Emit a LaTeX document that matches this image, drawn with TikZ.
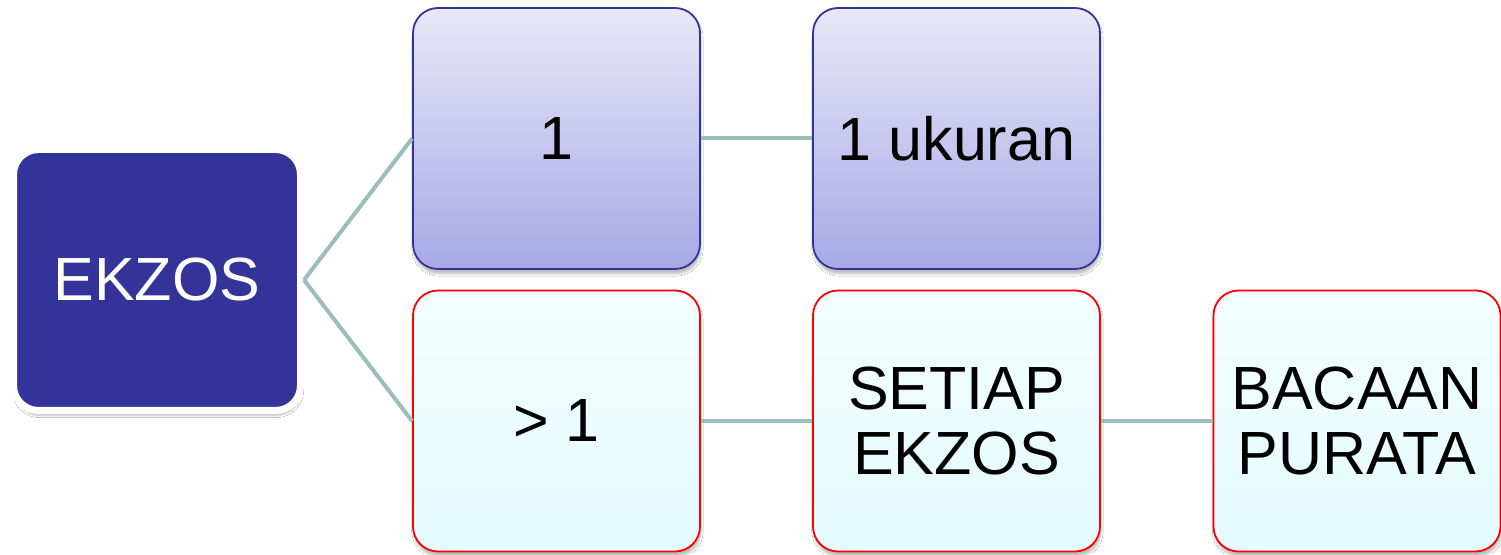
\documentclass[tikz,border=0pt]{standalone}
\usepackage{fontspec}
\setmainfont{Liberation Sans}
\usetikzlibrary{shadows.blur}
\definecolor{rootfill}{HTML}{333399}
\definecolor{blueedge}{HTML}{333399}
\definecolor{bluetop}{HTML}{E8E8F8}
\definecolor{bluebot}{HTML}{A8A8E6}
\definecolor{redtop}{HTML}{F2FDFF}
\definecolor{redbot}{HTML}{E4FBFF}
\definecolor{linkcol}{HTML}{9CBDBD}
\begin{document}
\begin{tikzpicture}[x=1pt,y=1pt,
  box/.style={rounded corners=25pt, minimum width=287pt, minimum height=261pt,
    inner sep=0pt, align=center, font=\fontsize{61}{65}\selectfont,
    blur shadow={shadow xshift=1pt, shadow yshift=-5pt, shadow opacity=25, shadow blur steps=6}},
  rootbox/.style={box, fill=rootfill, draw=white, line width=7pt, text=white},
  bluebox/.style={box, draw=blueedge, line width=1.8pt, top color=bluetop, bottom color=bluebot},
  redbox/.style={box, draw=red, line width=1.8pt, top color=redtop, bottom color=redbot},
  link/.style={draw=linkcol, line width=4pt}]
\path[fill=white] (0,0) rectangle (1501,554);
\useasboundingbox (0,0) rectangle (1501,554);
\node[rootbox] (root) at (157,274) {EKZOS};
\node[bluebox] (one) at (556.5,415.5) {1};
\node[bluebox] (size) at (956.5,415.5) {1 ukuran};
\node[redbox] (many) at (556.5,133) {> 1};
\node[redbox] (each) at (956.5,133) {SETIAP\\EKZOS};
\node[redbox] (avg) at (1357,133) {BACAAN\\PURATA};
\draw[link] (root.east) -- (one.west);
\draw[link] (root.east) -- (many.west);
\draw[link] (one.east) -- (size.west);
\draw[link] (many.east) -- (each.west);
\draw[link] (each.east) -- (avg.west);
\end{tikzpicture}
\end{document}
